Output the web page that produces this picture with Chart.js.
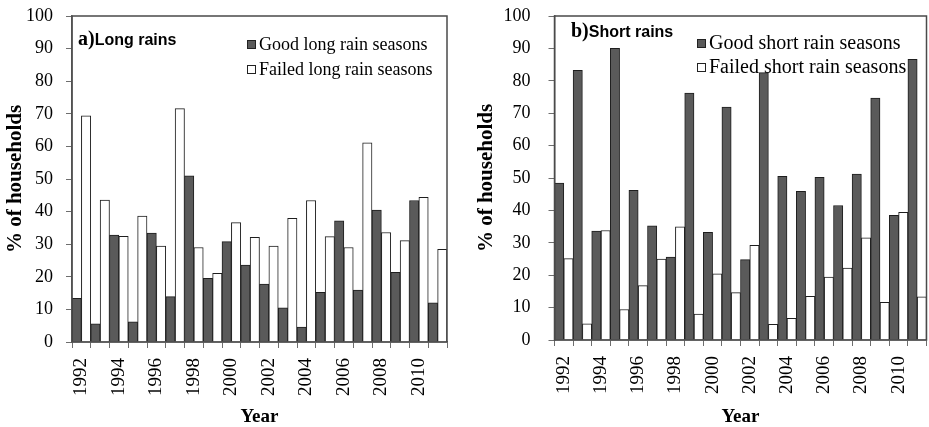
<!DOCTYPE html>
<html>
<head>
<meta charset="utf-8">
<script src="https://cdn.jsdelivr.net/npm/chart.js@4.4.1/dist/chart.umd.min.js"></script>
<style>
  html, body { margin: 0; padding: 0; background: #fff; }
  #wrap { position: relative; width: 929px; height: 427px; overflow: hidden; }
  canvas { position: absolute; top: 0; }
</style>
</head>
<body>
<div id="wrap">
  <canvas id="longRains" width="465" height="427" style="left:0"></canvas>
  <canvas id="shortRains" width="464" height="427" style="left:465px"></canvas>
</div>
<script>
// Survey years
const years = ['1992','1993','1994','1995','1996','1997','1998','1999','2000','2001',
               '2002','2003','2004','2005','2006','2007','2008','2009','2010','2011'];

// Long rains: % of households reporting good / failed seasons
const longGood   = [13.4, 5.6, 32.8, 6.2, 33.4, 13.9, 51.0, 19.5, 30.8, 23.6,
                    17.8, 10.5, 4.6, 15.2, 37.2, 15.9, 40.5, 21.4, 43.4, 12.0];
const longFailed = [69.4, 43.5, 32.4, 38.6, 29.4, 71.6, 29.0, 21.1, 36.6, 32.1,
                    29.4, 37.9, 43.4, 32.3, 29.0, 61.1, 33.6, 31.1, 44.4, 28.4];

// Short rains: % of households reporting good / failed seasons
const shortGood   = [48.4, 83.2, 33.6, 90.0, 46.2, 35.2, 25.6, 76.2, 33.2, 71.9,
                     24.8, 82.5, 50.5, 45.9, 50.2, 41.5, 51.2, 74.7, 38.5, 86.6];
const shortFailed = [25.1, 5.0, 33.8, 9.4, 16.8, 25.0, 34.9, 8.0, 20.4, 14.6,
                     29.2, 4.8, 6.7, 13.5, 19.4, 22.2, 31.5, 11.6, 39.4, 13.3];

// Y-axis ticks
const yMin = 0, yMax = 100, yStep = 10;

const SERIF = '"Liberation Serif", "Times New Roman", serif';
const SANS = '"Liberation Sans", Arial, sans-serif';
const GOOD_FILL = '#5a5a5a';
const EDGE = '#1e1e1e';
const AXIS = '#6e6e6e';

// Frame around the plot area, panel heading and in-plot legend
const panelDecor = {
  id: 'panelDecor',
  afterDraw(chart, args, opts) {
    const ctx = chart.ctx;
    const a = chart.chartArea;
    ctx.save();
    ctx.strokeStyle = '#4a4a4a';
    ctx.lineWidth = 1.5;
    ctx.strokeRect(a.left, a.top, a.right - a.left, a.bottom - a.top);

    // heading: "a)" in serif bold, name in sans bold
    ctx.fillStyle = '#000';
    ctx.textBaseline = 'middle';
    ctx.textAlign = 'left';
    ctx.font = 'bold 20px ' + SERIF;
    ctx.fillText(opts.tag, opts.headX, opts.headY);
    const w = ctx.measureText(opts.tag).width;
    ctx.font = 'bold 16px ' + SANS;
    ctx.fillText(opts.name, opts.headX + w, opts.headY + 1);

    // legend entries
    ctx.font = opts.legendSize + 'px ' + SERIF;
    chart.data.datasets.forEach((ds, i) => {
      const y = opts.legendY[i];
      ctx.fillStyle = ds.backgroundColor;
      ctx.fillRect(opts.legendX, y - 4, 8, 8);
      ctx.strokeStyle = '#222';
      ctx.lineWidth = 1;
      ctx.strokeRect(opts.legendX + 0.5, y - 3.5, 8, 8);
      ctx.fillStyle = '#000';
      ctx.fillText(ds.label, opts.legendX + 12, y + 1);
    });
    ctx.restore();
  }
};

function makePanel(id, goodData, failedData, labels, cfg) {
  return new Chart(document.getElementById(id), {
    type: 'bar',
    data: {
      labels: years,
      datasets: [
        { label: labels[0], data: goodData, backgroundColor: GOOD_FILL,
          borderColor: EDGE, borderWidth: 1 },
        { label: labels[1], data: failedData, backgroundColor: '#ffffff',
          borderColor: EDGE, borderWidth: 1 }
      ]
    },
    options: {
      responsive: false,
      animation: false,
      devicePixelRatio: 1,
      layout: { padding: { left: cfg.padLeft, right: cfg.padRight, top: 16, bottom: 0 } },
      datasets: { bar: { categoryPercentage: 1.0, barPercentage: 1.0 } },
      plugins: {
        legend: { display: false },
        tooltip: { enabled: false },
        panelDecor: cfg.decor
      },
      scales: {
        x: {
          offset: true,
          grid: { offset: true, drawOnChartArea: false, tickLength: 6, color: AXIS, lineWidth: 1 },
          border: { display: true, color: AXIS, width: 1.5 },
          ticks: {
            autoSkip: false,
            minRotation: 90,
            maxRotation: 90,
            padding: 10,
            color: '#000',
            font: { family: SERIF, size: 19 },
            callback: function (value, index) {
              return index % 2 === 0 ? this.getLabelForValue(value) : '';
            }
          },
          title: {
            display: true,
            text: 'Year',
            color: '#000',
            font: { family: SERIF, size: 19, weight: 'bold', lineHeight: 1 },
            padding: { top: 0, bottom: 0 }
          },
          afterFit(scale) {
            scale.height = cfg.xHeight;
            scale.paddingLeft = 0;
            scale.paddingRight = 0;
          }
        },
        y: {
          min: yMin,
          max: yMax,
          grid: { drawOnChartArea: false, tickLength: 6, color: AXIS, lineWidth: 1 },
          border: { display: true, color: AXIS, width: 1.5 },
          ticks: {
            stepSize: yStep,
            padding: cfg.yPad,
            color: '#000',
            font: { family: SERIF, size: 18 }
          },
          title: {
            display: true,
            text: '% of households',
            color: '#000',
            font: { family: SERIF, size: 21, weight: 'bold', lineHeight: 1.2 },
            padding: { top: 0, bottom: 0 }
          },
          afterFit(scale) {
            scale.width = cfg.yWidth;
            scale.paddingTop = 0;
            scale.paddingBottom = 0;
          }
        }
      }
    },
    plugins: [panelDecor]
  });
}

makePanel('longRains', longGood, longFailed,
  ['Good long rain seasons', 'Failed long rain seasons'],
  {
    padLeft: 3, padRight: 18, yWidth: 69, xHeight: 85, yPad: 13,
    decor: { tag: 'a)', name: 'Long rains', headX: 78, headY: 40,
             legendX: 247, legendY: [44, 69], legendSize: 18 }
  });

makePanel('shortRains', shortGood, shortFailed,
  ['Good short rain seasons', 'Failed short rain seasons'],
  {
    padLeft: 9, padRight: 2.5, yWidth: 80.5, xHeight: 87, yPad: 18,
    decor: { tag: 'b)', name: 'Short rains', headX: 106, headY: 32,
             legendX: 232, legendY: [43, 67], legendSize: 20 }
  });
</script>
</body>
</html>
